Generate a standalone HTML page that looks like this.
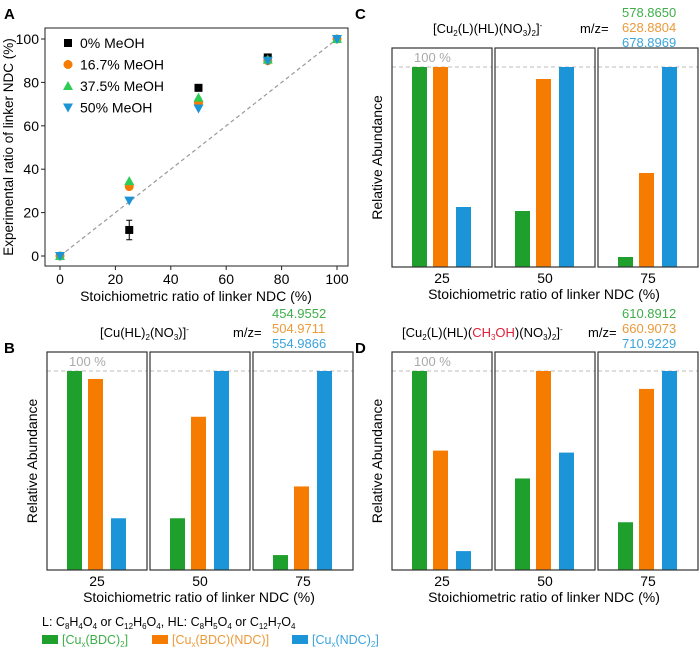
<!DOCTYPE html>
<html><head><meta charset="utf-8"><style>
html,body{margin:0;padding:0;background:#fff}
svg{display:block;font-family:"Liberation Sans",Arial,sans-serif}
</style></head><body>
<svg id="fig" width="700" height="654" viewBox="0 0 700 654" xmlns="http://www.w3.org/2000/svg">
<g font-weight="bold" font-size="15" fill="#000">
<text x="4" y="19">A</text>
<text x="4" y="353">B</text>
<text x="355" y="19">C</text>
<text x="355" y="353">D</text>
</g>
<g id="pa"></g>
<g id="pb"></g>
<g id="pc"></g>
<g id="pd"></g>
<g font-size="12.5">
<text x="42" y="626">L: C<tspan font-size="8" dy="3">8</tspan><tspan dy="-3">H</tspan><tspan font-size="8" dy="3">4</tspan><tspan dy="-3">O</tspan><tspan font-size="8" dy="3">4</tspan><tspan dy="-3"> or C</tspan><tspan font-size="8" dy="3">12</tspan><tspan dy="-3">H</tspan><tspan font-size="8" dy="3">6</tspan><tspan dy="-3">O</tspan><tspan font-size="8" dy="3">4</tspan><tspan dy="-3">,   HL: C</tspan><tspan font-size="8" dy="3">8</tspan><tspan dy="-3">H</tspan><tspan font-size="8" dy="3">5</tspan><tspan dy="-3">O</tspan><tspan font-size="8" dy="3">4</tspan><tspan dy="-3"> or C</tspan><tspan font-size="8" dy="3">12</tspan><tspan dy="-3">H</tspan><tspan font-size="8" dy="3">7</tspan><tspan dy="-3">O</tspan><tspan font-size="8" dy="3">4</tspan></text>
<rect x="42" y="635" width="16" height="9" fill="#1fa02d"/>
<text x="62" y="644" fill="#3fae4a">[Cu<tspan font-size="8" dy="3">x</tspan><tspan dy="-3">(BDC)</tspan><tspan font-size="8" dy="3">2</tspan><tspan dy="-3">]</tspan></text>
<rect x="152" y="635" width="16" height="9" fill="#f57c00"/>
<text x="172" y="644" fill="#eb9a3a">[Cu<tspan font-size="8" dy="3">x</tspan><tspan dy="-3">(BDC)(NDC)]</tspan></text>
<rect x="292" y="635" width="16" height="9" fill="#1b95d8"/>
<text x="312" y="644" fill="#3aa4dc">[Cu<tspan font-size="8" dy="3">x</tspan><tspan dy="-3">(NDC)</tspan><tspan font-size="8" dy="3">2</tspan><tspan dy="-3">]</tspan></text>
</g>
</svg>
<script>
// Panel A data
const aX = [0, 25, 50, 75, 100];
const aS0 = [0, 12, 77.5, 91.5, 100];
const aS16 = [0, 32, 70.5, 90, 100];
const aS37 = [0, 34.5, 73, 90.5, 100];
const aS50 = [0, 25.5, 68, 90, 100];
const aErr0 = [0, 4.5, 0, 0, 0];
const aTicks = [0, 20, 40, 60, 80, 100];
const aNames = ["0% MeOH", "16.7% MeOH", "37.5% MeOH", "50% MeOH"];
// Bar panels
const groups = ["25", "50", "75"];
const bGreen = [100, 26, 7.5];
const bOrange = [96, 77, 42];
const bBlue = [26, 100, 100];
const cGreen = [100, 28, 5];
const cOrange = [100, 94, 47];
const cBlue = [30, 100, 100];
const dGreen = [100, 46, 24];
const dOrange = [60, 100, 91];
const dBlue = [9.5, 59, 100];

const NS = "http://www.w3.org/2000/svg";
function mk(parent, tag, attrs, text) {
  const e = document.createElementNS(NS, tag);
  for (const k in attrs) e.setAttribute(k, attrs[k]);
  if (text !== undefined) e.textContent = text;
  parent.appendChild(e);
  return e;
}
// ---- Panel A ----
(function () {
  const g = document.getElementById("pa");
  const xs = v => 60 + v * 2.77, ys = v => 256 - v * 2.17;
  let e = mk(g, "rect", { x: 45, y: 28, width: 303, height: 238, fill: "none", stroke: "#222", "stroke-width": 1 });
  
  
  e = mk(g, "line", { x1: xs(0), y1: ys(0), x2: xs(100), y2: ys(100), stroke: "#999", "stroke-dasharray": "4,3", "stroke-width": 1.2 });
  
  
  aTicks.forEach(t => {
    let l = mk(g, "line", { x1: xs(t), y1: 266, x2: xs(t), y2: 270, stroke: "#222" });
    
    
    let tx = mk(g, "text", { x: xs(t), y: 284, "text-anchor": "middle", "font-size": 14 }, t);
    
    
    l = mk(g, "line", { x1: 41, y1: ys(t), x2: 45, y2: ys(t), stroke: "#222" });
    
    
    tx = mk(g, "text", { x: 39, y: ys(t) + 5, "text-anchor": "end", "font-size": 14 }, t);
    
    
  });
  let t = mk(g, "text", { x: 196, y: 301, "text-anchor": "middle", "font-size": 14 }, "Stoichiometric ratio of linker NDC (%)");
  
  
  t = mk(g, "text", { x: 0, y: 0, "text-anchor": "middle", "font-size": 13.5, transform: "translate(13,147) rotate(-90)" }, "Experimental ratio of linker NDC (%)");
  
  
  function marker(kind, x, y, name) {
    let m;
    if (kind === 0) m = mk(g, "rect", { x: x - 4, y: y - 4, width: 8, height: 8, fill: "#000" });
    else if (kind === 1) m = mk(g, "circle", { cx: x, cy: y, r: 4.5, fill: "#f57c00" });
    else if (kind === 2) m = mk(g, "polygon", { points: `${x},${y - 5} ${x + 5},${y + 4} ${x - 5},${y + 4}`, fill: "#2ecc55" });
    else m = mk(g, "polygon", { points: `${x - 5},${y - 4} ${x + 5},${y - 4} ${x},${y + 5}`, fill: "#1b95d8" });
    
    
  }
  aX.forEach((xv, i) => {
    if (aErr0[i] > 0) {
      const eb = mk(g, "path", { d: `M${xs(xv)},${ys(aS0[i] + aErr0[i])}V${ys(aS0[i] - aErr0[i])}M${xs(xv) - 3},${ys(aS0[i] + aErr0[i])}h6M${xs(xv) - 3},${ys(aS0[i] - aErr0[i])}h6`, stroke: "#000", fill: "none" });
      
      
    }
    marker(0, xs(xv), ys(aS0[i]), 'point-0-meoh');
    marker(1, xs(xv), ys(aS16[i]), 'point-16-meoh');
    marker(2, xs(xv), ys(aS37[i]), 'point-37-meoh');
    marker(3, xs(xv), ys(aS50[i]), 'point-50-meoh');
  });
  aNames.forEach((n, i) => {
    const y = 43 + i * 21.5;
    marker(i, 68, y, 'legend-marker');
    const lt = mk(g, "text", { x: 80, y: y + 5, "font-size": 14 }, n);
    
    
  });
})();
// ---- Bar panels ----
function barPanel(id, x0, top, bottom, green, orange, blue) {
  const g = document.getElementById(id);
  const ys = v => bottom - v * (bottom - 19 - top) / 100;
  const starts = [x0, x0 + 103, x0 + 206], w = 100;
  const cols = ["#1fa02d", "#f57c00", "#1b95d8"];
  const offs = [20, 41, 64];
  groups.forEach((lab, i) => {
    const bx = starts[i];
    let e = mk(g, "line", { x1: bx, y1: ys(100), x2: bx + w, y2: ys(100), stroke: "#bbb", "stroke-dasharray": "4,3" });
    
    
    [green, orange, blue].forEach((arr, k) => {
      const b = mk(g, "rect", { x: bx + offs[k], y: ys(arr[i]), width: 15, height: bottom - ys(arr[i]), fill: cols[k] });
      
      
    });
    e = mk(g, "rect", { x: bx, y: top, width: w, height: bottom - top, fill: "none", stroke: "#333", "stroke-width": 1.2 });
    
    
    const t = mk(g, "text", { x: bx + w / 2, y: bottom + 16, "text-anchor": "middle", "font-size": 14 }, lab);
    
    
  });
  let t = mk(g, "text", { x: x0 + 22, y: top + 14, fill: "#aaa", "font-size": 13 }, "100 %");
  
  
  t = mk(g, "text", { x: x0 + 152, y: bottom + 32, "text-anchor": "middle", "font-size": 14 }, "Stoichiometric ratio of linker NDC (%)");
  
  
  t = mk(g, "text", { x: 0, y: 0, "text-anchor": "middle", "font-size": 14, transform: `translate(${x0 - 10},${(top + bottom) / 2}) rotate(-90)` }, "Relative Abundance");
  
  
}
barPanel("pb", 47, 352, 570, bGreen, bOrange, bBlue);
barPanel("pc", 392, 48, 267, cGreen, cOrange, cBlue);
barPanel("pd", 392, 352, 570, dGreen, dOrange, dBlue);
</script>
<div style="position:absolute;left:0;top:0;width:700px;height:654px;pointer-events:none">
<svg width="700" height="654" style="position:absolute;left:0;top:0" font-family="Liberation Sans, Arial, sans-serif" font-size="13">
<g><text x="100" y="337">[Cu(HL)<tspan font-size="8" dy="3">2</tspan><tspan dy="-3">(NO</tspan><tspan font-size="8" dy="3">3</tspan><tspan dy="-3">)]</tspan><tspan font-size="8" dy="-5">-</tspan></text>
<text x="233" y="337">m/z=</text>
<text x="272" y="318" fill="#3fae4a">454.9552</text><text x="272" y="333" fill="#eb9a3a">504.9711</text><text x="272" y="348" fill="#3aa4dc">554.9866</text></g>
<g><text x="433" y="33">[Cu<tspan font-size="8" dy="3">2</tspan><tspan dy="-3">(L)(HL)(NO</tspan><tspan font-size="8" dy="3">3</tspan><tspan dy="-3">)</tspan><tspan font-size="8" dy="3">2</tspan><tspan dy="-3">]</tspan><tspan font-size="8" dy="-5">-</tspan></text>
<text x="580" y="33">m/z=</text>
<text x="622" y="17" fill="#3fae4a">578.8650</text><text x="622" y="32" fill="#eb9a3a">628.8804</text><text x="622" y="47" fill="#3aa4dc">678.8969</text></g>
<g><text x="402" y="337">[Cu<tspan font-size="8" dy="3">2</tspan><tspan dy="-3">(L)(HL)(</tspan><tspan fill="#e0203a">CH</tspan><tspan font-size="8" dy="3" fill="#e0203a">3</tspan><tspan dy="-3" fill="#e0203a">OH</tspan><tspan>)(NO</tspan><tspan font-size="8" dy="3">3</tspan><tspan dy="-3">)</tspan><tspan font-size="8" dy="3">2</tspan><tspan dy="-3">]</tspan><tspan font-size="8" dy="-5">-</tspan></text>
<text x="588" y="337">m/z=</text>
<text x="622" y="318" fill="#3fae4a">610.8912</text><text x="622" y="333" fill="#eb9a3a">660.9073</text><text x="622" y="348" fill="#3aa4dc">710.9229</text></g>
</svg></div>
</body></html>
